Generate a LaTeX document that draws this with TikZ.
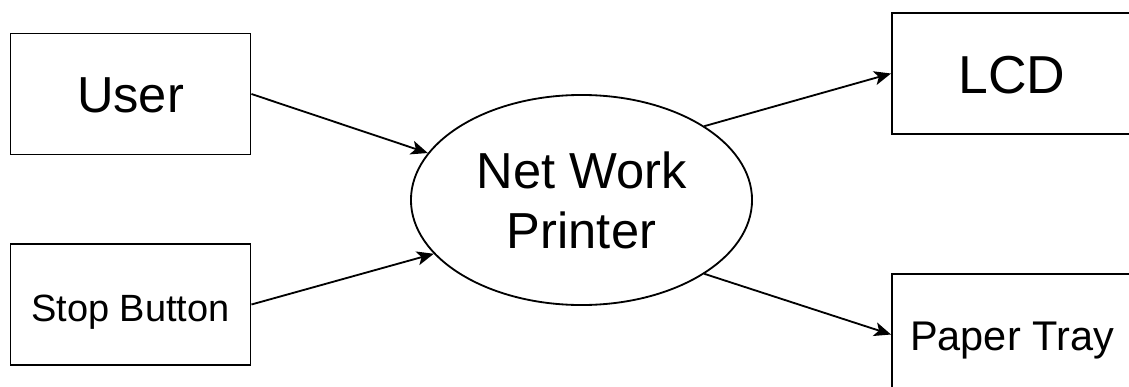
\documentclass[tikz,border=0pt]{standalone}
\usepackage{fontspec}
\setmainfont{Liberation Sans}
\usetikzlibrary{arrows.meta,shapes.geometric}

\begin{document}
\begin{tikzpicture}[x=0.025cm,y=-0.025cm, line width=1.3pt,
    >={Stealth[length=12pt,width=10pt,inset=3pt]},
    entity/.style={draw, rectangle, minimum width=6cm, minimum height=3.025cm,
      inner sep=0pt, text depth=0pt},
    proc/.style={draw, ellipse, minimum width=8.525cm, minimum height=5.25cm,
      inner sep=0pt, align=center, font=\fontsize{36}{42.7}\selectfont}]
  \clip (0,0) rectangle (1129,387);
  \node[entity, font=\fontsize{36}{43}\selectfont, text height=26pt] (user) at (130.5,94) {User};
  \node[entity, font=\fontsize{27}{32}\selectfont, text height=24.8pt] (stop) at (130.5,304.5) {Stop Button};
  \node[proc] (nwp) at (581.5,200) {Net Work\\Printer};
  \node[entity, font=\fontsize{38}{45}\selectfont, text height=29pt] (lcd) at (1012,73.5) {LCD};
  \node[entity, font=\fontsize{29.5}{35}\selectfont, text height=22.4pt] (tray) at (1012,334.5) {Paper Tray};
  \path[->]
    (user.east) edge (nwp.163)
    (stop.east) edge (nwp.200)
    (nwp.31.5) edge (lcd.west)
    (nwp.329) edge (tray.west);
\end{tikzpicture}
\end{document}
